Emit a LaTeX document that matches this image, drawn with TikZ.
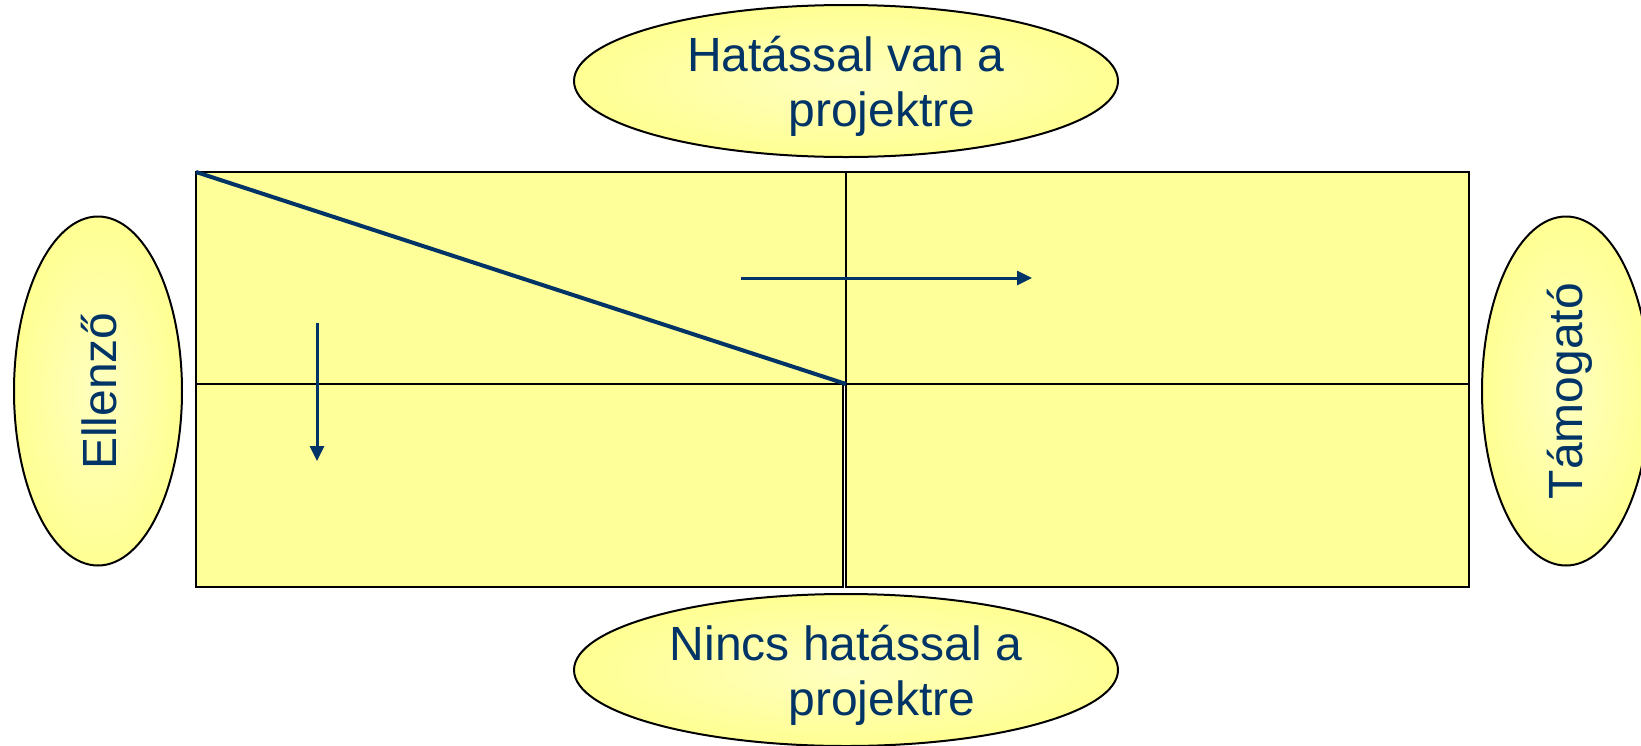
\documentclass[tikz,border=0pt]{standalone}
\usepackage{fontspec}
\setmainfont{Liberation Sans}
\usetikzlibrary{shapes.geometric,arrows.meta}
\definecolor{navy}{HTML}{003366}
\definecolor{cellfill}{HTML}{FFFF99}
\definecolor{ellin}{HTML}{FFFFC0}
\definecolor{ellout}{HTML}{FFFF66}
\pgfdeclareradialshading{ellshade}{\pgfpoint{0bp}{0bp}}{color(0bp)=(ellin); color(50bp)=(ellout); color(72bp)=(ellout)}
\begin{document}
\begin{tikzpicture}[x=1pt,y=-1pt,
  cell/.style={rectangle,draw=black,line width=2pt,fill=cellfill,inner sep=0pt,outer sep=0pt},
  ell/.style={ellipse,draw=black,line width=2pt,inner sep=0pt,outer sep=0pt,shading=ellshade},
  lbl/.style={text=navy,font=\fontsize{48}{55}\selectfont,inner sep=0pt,outer sep=0pt},
  flow/.style={draw=navy,line width=3pt,-{Triangle[length=15pt,width=14pt]}},
  diag/.style={draw=navy,line width=4pt}]
\useasboundingbox (0,0) rectangle (1641,745);
\clip (0,0) rectangle (1641,745);
\fill[white] (0,0) rectangle (1641,745);
% grid of cells
\node[cell,minimum width=650pt,minimum height=212pt] (tl) at (521,278) {};
\node[cell,minimum width=623pt,minimum height=212pt] (tr) at (1157.5,278) {};
\node[cell,minimum width=647pt,minimum height=203pt] (bl) at (519.5,485.5) {};
\node[cell,minimum width=623pt,minimum height=203pt] (br) at (1157.5,485.5) {};
% diagonal and arrows
\draw[diag] (tl.north west) -- (tl.south east);
\coordinate (ha) at (741,278);
\coordinate (hb) at (1032,278);
\draw[flow] (ha) -- (hb);
\coordinate (va) at (317,323);
\coordinate (vb) at (317,461);
\draw[flow] (va) -- (vb);
% ellipses
\node[ell,minimum width=544pt,minimum height=152pt] (etop) at (846,81) {};
\node[ell,minimum width=544pt,minimum height=152pt] (ebot) at (846,670) {};
\node[ell,minimum width=168pt,minimum height=349pt] (eleft) at (98,391) {};
\node[ell,minimum width=168pt,minimum height=349pt] (eright) at (1566,391) {};
% labels
\node[lbl,anchor=base west] (t1) at (687,71.7) {Hatással van a};
\node[lbl,anchor=base west] (t2) at (788.5,126.7) {projektre};
\node[lbl,anchor=base west] (b1) at (669.7,660) {Nincs hatással a};
\node[lbl,anchor=base west] (b2) at (788.5,715) {projektre};
\node[lbl,rotate=90,anchor=base] (lt) at (116,391) {Ellenző};
\node[lbl,rotate=90,anchor=base] (rt) at (1582,391) {Támogató};
\end{tikzpicture}
\end{document}
